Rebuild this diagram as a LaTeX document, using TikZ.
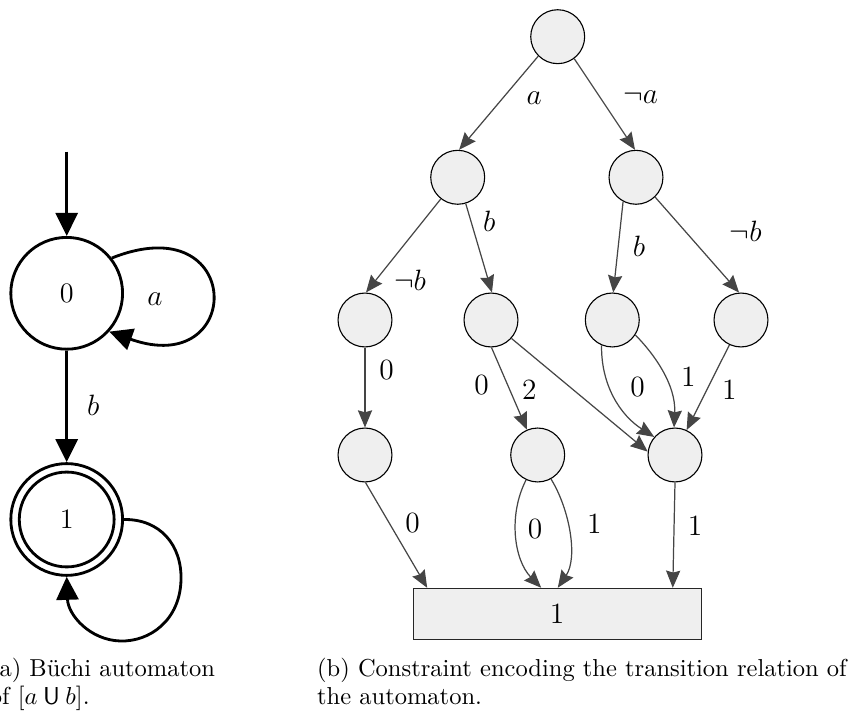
\documentclass[tikz,border=0pt]{standalone}
\usepackage{fontspec}
\usetikzlibrary{arrows.meta,calc}
\definecolor{nodefill}{HTML}{EFEFEF}
\definecolor{edgegray}{HTML}{454545}
\begin{document}
\begin{tikzpicture}[x=0.408pt,y=-0.408pt,
  bnode/.style={circle,draw=black,line width=0.45pt,fill=nodefill,minimum size=22pt,inner sep=0pt},
  bedge/.style={draw=edgegray,line width=0.5pt,-{Stealth[length=7pt,width=5.8pt,inset=0.8pt,fill=edgegray]}},
  blabel/.style={font=\fontsize{12}{14}\selectfont,inner sep=0pt},
  boxnode/.style={rectangle,draw=black!85,line width=0.45pt,fill=nodefill,minimum width=117.4pt,minimum height=20.7pt,inner sep=0pt,font=\fontsize{12}{14}\selectfont},
  state/.style={circle,draw=black,line width=1.15pt,minimum size=45.6pt,inner sep=0pt,font=\fontsize{11.5}{13}\selectfont},
  innerstate/.style={circle,draw=black,line width=1.15pt,minimum size=38.7pt,inner sep=0pt},
  aedge/.style={draw=black,line width=1.15pt,-{Triangle[length=9.4pt,width=9pt]}},
  alabel/.style={font=\fontsize{11.5}{13}\selectfont,inner sep=0pt},
  caption/.style={anchor=base west,inner sep=0pt,font=\fontsize{10}{12}\selectfont}
]
\useasboundingbox (0,0) rectangle (856,715);

% ---------- (a) Buchi automaton ----------
\coordinate (init) at (66.7,151.7);
\node[state] (s0) at (66.7,293.3) {0};
\node[state] (s1) at (66.7,519.5) {1};
\node[innerstate] (s1in) at (66.7,519.5) {};
\draw[aedge] (init) -- (s0);
\draw[aedge] (s0) -- (s1);
\draw[aedge] (s0.38) .. controls (245,205) and (245,380) .. (s0.-42);
\draw[aedge] (s1.0) .. controls (160,519) and (182,545) .. (181,580)
                    .. controls (180,620) and (150,642) .. (120,641)
                    .. controls (90,640) and (68,615) .. (s1.-90);
\node[alabel] (la0) at (155,299.3) {$a$};
\node[alabel] (lb0) at (93.3,405) {$b$};

\node[caption] (capa1) at (-10.5,676.7) {(a) Büchi automaton};
\node[caption] (capa2) at (-10.5,705) {of [$a \mathbin{\mathsf{U}} b$].};

% ---------- (b) constraint encoding ----------
\node[bnode] (r)  at (557.7,36.7) {};
\node[bnode] (n1) at (457.7,177.3) {};
\node[bnode] (n2) at (636,177.3) {};
\node[bnode] (n3) at (365,320) {};
\node[bnode] (n4) at (491,320) {};
\node[bnode] (n5) at (612.3,320) {};
\node[bnode] (n6) at (741,320) {};
\node[bnode] (n7) at (365,455) {};
\node[bnode] (n8) at (537.7,455) {};
\node[bnode] (n9) at (675,455) {};
\node[boxnode] (box) at (557.2,613.7) {1};

\draw[bedge] (r.-135) -- (n1.87);
\draw[bedge] (r.-53) -- (n2.92);
\draw[bedge] (n1.-128) -- (n3.88);
\draw[bedge] (n1.-73) -- (n4.88);
\draw[bedge] (n2.-118) -- (n5.88);
\draw[bedge] (n2.-46) -- (n6.94);
\draw[bedge] (n3.-90) -- (n7.90);
\draw[bedge] (n4.-89) -- (n8.113);
\draw[bedge] (n4.-42) -- (n9.173);
\draw[bedge] (n5.-113) .. controls (601,385) and (620,415) .. (n9.139);
\draw[bedge] (n5.-33) .. controls (655,355) and (676,385) .. (n9.92);
\draw[bedge] (n6.-115) -- (n9.65);
\draw[bedge] (n7.-89) -- ($(box.north west)+(14.4,0)$);
\draw[bedge] (n8.-115) .. controls (508,515) and (514,560) .. ($(box.north west)+(128.4,0)$);
\draw[bedge] (n8.-61) .. controls (570,510) and (578,558) .. ($(box.north west)+(145,0)$);
\draw[bedge] (n9.-90) -- ($(box.north west)+(260,0)$);

\node[blabel] (la)   at (534.3,98.3) {$a$};
\node[blabel] (lna)  at (640.7,96.7) {$\neg a$};
\node[blabel] (lb1)  at (489.3,221.7) {$b$};
\node[blabel] (lnb1) at (410,280) {$\neg b$};
\node[blabel] (lb2)  at (639,246.7) {$b$};
\node[blabel] (lnb2) at (745.7,231.7) {$\neg b$};
\node[blabel] (l0a)  at (386.7,370) {0};
\node[blabel] (l0b)  at (481.7,385) {0};
\node[blabel] (l2)   at (529.3,390) {2};
\node[blabel] (l0c)  at (637.7,386.7) {0};
\node[blabel] (l1a)  at (688.3,376.7) {1};
\node[blabel] (l1b)  at (729.3,390) {1};
\node[blabel] (l0d)  at (412.7,523.3) {0};
\node[blabel] (l0e)  at (535,529.3) {0};
\node[blabel] (l1c)  at (594.3,523.3) {1};
\node[blabel] (l1d)  at (695,526) {1};

\node[caption] (capb1) at (316.7,676.7) {(b) Constraint encoding the transition relation of};
\node[caption] (capb2) at (316.7,705) {the automaton.};
\end{tikzpicture}
\end{document}
